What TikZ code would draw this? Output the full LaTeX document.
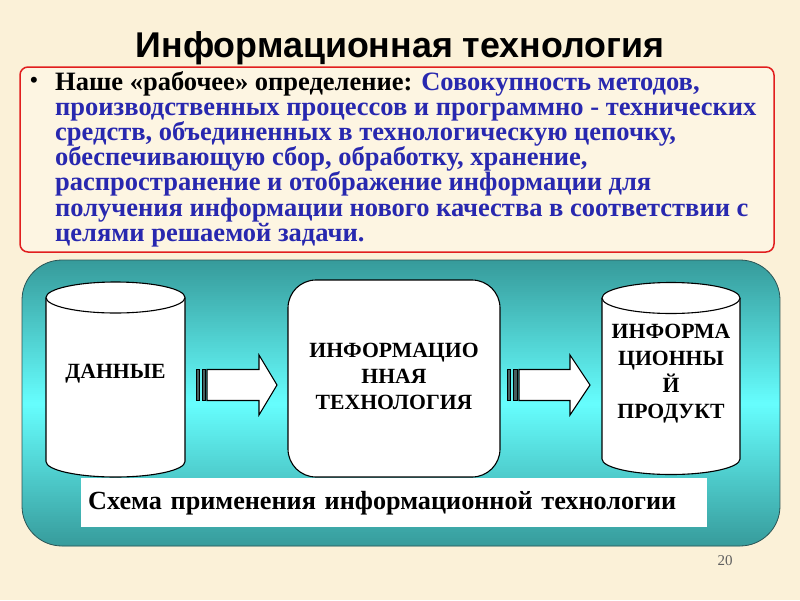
\documentclass[tikz,border=0pt]{standalone}
\usepackage{fontspec}
\setmainfont{Liberation Serif}
\newfontfamily\headfont{Liberation Sans}
\usetikzlibrary{math}

\definecolor{parchment}{RGB}{251,241,216}
\definecolor{defbox}{RGB}{253,245,226}
\definecolor{defblue}{RGB}{40,40,175}
\definecolor{defred}{RGB}{225,30,30}
\definecolor{tealdark}{RGB}{54,154,154}
\definecolor{tealbright}{RGB}{102,254,254}
\definecolor{tealedge}{RGB}{45,85,85}
\definecolor{bargray}{RGB}{70,95,95}
\definecolor{pagegray}{RGB}{95,95,95}

\tikzset{
  cylbody/.style={draw=black, fill=white, line width=1.1pt},
  capsfont/.style={font=\fontsize{21.7}{26}\selectfont\bfseries, align=center},
  arrowbody/.style={draw=black, fill=white, line width=1.1pt, line join=miter},
  arrowbar/.style={draw=black, fill=bargray, thin}
}

\begin{document}
\begin{tikzpicture}[x=1pt,y=-1pt]
%\draw[blue, very thick] (0,0) rectangle (800,600);

\tikzmath{
\lcx = 115.5;
\lrx = 69.5;
\ltop = 297.5;
\lbot = 461.5;
\rcx = 671;
\rrx = 69;
\rtop = 298;
\rbot = 459;
\ry = 15.5;
\ay = 385;
\abody = 15.5;
\ahead = 30;
}

\fill[parchment] (0,0) rectangle (800,600);
\useasboundingbox (0,0) rectangle (800,600);

\node[font=\headfont\bfseries\fontsize{35.8}{38}\selectfont] (title) at (400,48) {Информационная технология};

\draw[defred, fill=defbox, line width=1.5pt, rounded corners=8pt] (20,67) rectangle (774,252);
\node[font=\fontsize{22}{22}\selectfont\bfseries] (bullet) at (34,82) {\textbullet};
\node[anchor=north west, inner sep=0pt, align=left, font=\fontsize{26.5}{25.2}\selectfont\bfseries] (deftext) at (55,71)
  {Наше «рабочее» определение: \textcolor{defblue}{Совокупность методов,}\\
   \textcolor{defblue}{производственных процессов и программно - технических}\\
   \textcolor{defblue}{средств, объединенных в технологическую цепочку,}\\
   \textcolor{defblue}{обеспечивающую сбор, обработку, хранение,}\\
   \textcolor{defblue}{распространение и отображение информации для}\\
   \textcolor{defblue}{получения информации нового качества в соответствии с}\\
   \textcolor{defblue}{целями решаемой задачи.}};

%scheme
\begin{scope}
\clip[rounded corners=40pt] (22,260) rectangle (780,546);
\foreach \i in {0,...,143} {
  \pgfmathsetmacro\mixpct{100*(1-abs(2*(\i+0.5)/144-1))}
  \fill[tealbright!\mixpct!tealdark] (22,260+2*\i) rectangle (780,262.6+2*\i);
}
\end{scope}
\draw[tealedge, thick, rounded corners=40pt] (22,260) rectangle (780,546);

\draw[cylbody] (\lcx-\lrx,\ltop) -- (\lcx-\lrx,\lbot) arc[start angle=180, end angle=0, x radius=\lrx, y radius=\ry] -- (\lcx+\lrx,\ltop);
\draw[cylbody] (\lcx,\ltop) ellipse[x radius=\lrx, y radius=\ry];
\node[capsfont] (data) at (\lcx,374) {ДАННЫЕ};

\node[draw=black, fill=white, line width=1.1pt, rounded corners=28pt, minimum width=212pt, minimum height=197pt] (itech) at (394,378.5) {};
\node[capsfont] (itechtext) at (394,376) {ИНФОРМАЦИО\\ННАЯ\\ТЕХНОЛОГИЯ};

\draw[cylbody] (\rcx-\rrx,\rtop) -- (\rcx-\rrx,\rbot) arc[start angle=180, end angle=0, x radius=\rrx, y radius=\ry] -- (\rcx+\rrx,\rtop);
\draw[cylbody] (\rcx,\rtop) ellipse[x radius=\rrx, y radius=\ry];
\node[capsfont, font=\fontsize{21.7}{26.7}\selectfont\bfseries] (product) at (\rcx,374) {ИНФОРМА\\ЦИОННЫ\\Й\\ПРОДУКТ};

%arrows
\draw[arrowbar] (196,\ay-\abody) rectangle (199.5,\ay+\abody);
\draw[arrowbar] (202,\ay-\abody) rectangle (205.5,\ay+\abody);
\draw[arrowbody] (207,\ay-\abody) -- (259,\ay-\abody) -- (259,\ay-\ahead) -- (277,\ay) -- (259,\ay+\ahead) -- (259,\ay+\abody) -- (207,\ay+\abody) -- cycle;

\draw[arrowbar] (507,\ay-\abody) rectangle (510.5,\ay+\abody);
\draw[arrowbar] (513.5,\ay-\abody) rectangle (517,\ay+\abody);
\draw[arrowbody] (519,\ay-\abody) -- (570,\ay-\abody) -- (570,\ay-\ahead) -- (590,\ay) -- (570,\ay+\ahead) -- (570,\ay+\abody) -- (519,\ay+\abody) -- cycle;

\node[anchor=north west, fill=white, minimum width=626pt, minimum height=49pt, text width=612pt, inner xsep=7pt, align=left, font=\fontsize{26.2}{26}\selectfont\bfseries] (caption) at (81,478)
  {Схема применения информационной технологии};

\node[text=pagegray, font=\fontsize{15}{15}\selectfont] (pagenum) at (725,561) {20};

\end{tikzpicture}
\end{document}
